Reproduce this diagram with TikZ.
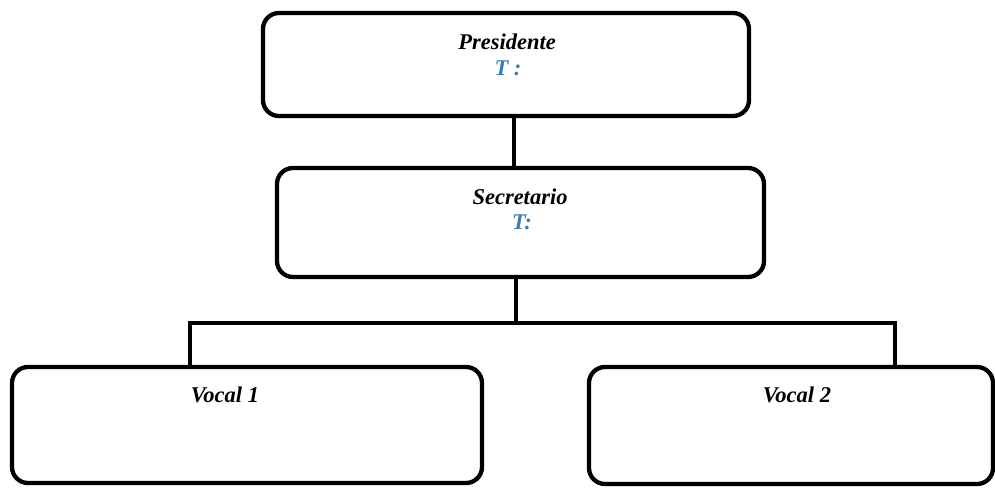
\documentclass[tikz,border=0pt]{standalone}
\usepackage{fontspec}
\setmainfont{Liberation Serif}
\definecolor{tblue}{RGB}{54,125,180}

\begin{document}
\begin{tikzpicture}[x=1pt,y=-1pt,
  box/.style={draw=black,line width=4.3pt,rounded corners=16pt,minimum width=#1,inner sep=0pt},
  role/.style={inner sep=0pt,font=\fontsize{22.5}{26}\selectfont\bfseries\itshape},
  tel/.style={role,text=tblue}]
\path[use as bounding box] (0,0) rectangle (995,487);
\node[box=486pt,minimum height=103pt] (pres) at (506,64.5) {};
\node[role] (presname) at (507,42) {Presidente};
\node[tel] (prestel) at (508,68) {T :};
\node[box=487pt,minimum height=109pt] (sec) at (520.5,222.5) {};
\node[role] (secname) at (520,197) {Secretario};
\node[tel] (sectel) at (522,222) {T:};
\node[box=470pt,minimum height=116pt] (vocA) at (247,425) {};
\node[role] (vocAname) at (225,395) {Vocal 1};
\node[box=404pt,minimum height=117pt] (vocB) at (791,425.5) {};
\node[role] (vocBname) at (797,395) {Vocal 2};
\coordinate (split) at (516,323);
\coordinate (left) at (190,323);
\coordinate (right) at (895,323);
\draw[line width=4.3pt] ([xshift=8pt]pres.south) -- ([xshift=-6.5pt]sec.north);
\draw[line width=4.3pt] (sec.south -| split) -- (split);
\draw[line width=4.3pt] (left |- vocA.north) -- (left) -- (right) -- (right |- vocB.north);
\end{tikzpicture}
\end{document}
